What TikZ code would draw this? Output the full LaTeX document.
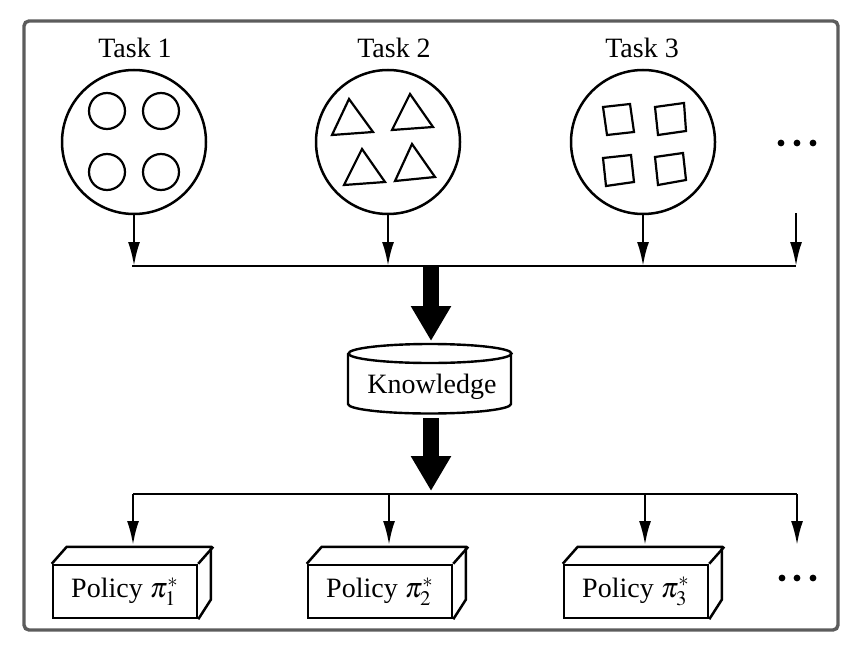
\documentclass[tikz,border=0pt]{standalone}
\usepackage{mathptmx}
\usepackage{fontspec}
\setmainfont{Liberation Serif}
\usetikzlibrary{arrows.meta,calc}
\definecolor{framegray}{RGB}{92,92,92}
\begin{document}
\begin{tikzpicture}[x=0.5pt,y=-0.5pt,line width=1.2pt,
  font=\fontsize{14}{16}\selectfont,
  frame/.style={draw=framegray,line width=1.7pt,rounded corners=2.5pt},
  task/.style={circle,draw,line width=1.25pt,minimum size=72pt,inner sep=0pt},
  shp/.style={line width=1.1pt,line join=miter},
  conn/.style={-{Latex[length=12pt,width=6pt]},line width=1.2pt},
  big/.style={-{Triangle[length=17.5pt,width=19pt]},line width=8pt},
  pol/.style={draw,line width=1.25pt,minimum width=72pt,minimum height=26.5pt,inner sep=0pt},
  depth/.style={line width=1.25pt,line join=miter}]
\useasboundingbox (0,0) rectangle (854,652);
\draw[frame] (24,21) rectangle (838,630);
% tasks
\node[task] (t1) at (134,142) {};
\node[task] (t2) at (388,142) {};
\node[task] (t3) at (643,142) {};
\node[anchor=base] (l1) at (135,58) {Task 1};
\node[anchor=base] (l2) at (394,58) {Task 2};
\node[anchor=base] (l3) at (642,58) {Task 3};
% circles
\foreach \p in {(107,111),(161,111),(107,172),(161,172)}
  \draw[shp] \p circle[radius=18];
% triangles
\draw[shp] (349,99) -- (332,135) -- (373,132) -- cycle;
\draw[shp] (410,94) -- (392,130) -- (433,127) -- cycle;
\draw[shp] (362,149) -- (344,185) -- (385,182) -- cycle;
\draw[shp] (412,144) -- (395,181) -- (435,177) -- cycle;
% squares
\draw[shp] (603,107) -- (630,104) -- (634,132) -- (607,135) -- cycle;
\draw[shp] (655,107) -- (684,103) -- (686,131) -- (658,135) -- cycle;
\draw[shp] (603,158) -- (631,155) -- (634,182) -- (606,186) -- cycle;
\draw[shp] (655,157) -- (683,153) -- (686,180) -- (658,185) -- cycle;
% dots top
\foreach \x in {781,797,813} \fill (\x,143) circle[radius=3.4];
\coordinate (d1) at (796,213);
% top bar
\coordinate (b1) at (132,266);
\coordinate (b4) at (796,266);
\coordinate (bmid) at (431,266);
\draw (b1) -- (b4);
\draw[conn] (t1.south) -- (t1.south |- b1);
\draw[conn] (t2.south) -- (t2.south |- b1);
\draw[conn] (t3.south) -- (t3.south |- b1);
\draw[conn] (d1) -- (d1 |- b1);
% knowledge cylinder
\coordinate (kt) at (431,341);
\coordinate (kb) at (431,418);
\draw (348,353.5) -- (348,404) arc[start angle=180,end angle=0,x radius=81.5,y radius=9.5] -- (511,353.5);
\draw (430,353.5) ellipse[x radius=81.5,y radius=9.5];
\node[anchor=base] (kn) at (432,393) {Knowledge};
\draw[big] (bmid) -- (kt);
% bottom bar
\coordinate (c1) at (133,494);
\coordinate (c4) at (797,494);
\coordinate (cmid) at (431,491);
\draw[big] (kb) -- (cmid);
\draw (c1) -- (c4);
% policies
\node[pol] (p1) at (125,591.5) {Policy $\pi_1^*$};
\node[pol] (p2) at (380,591.5) {Policy $\pi_2^*$};
\node[pol] (p3) at (636,591.5) {Policy $\pi_3^*$};
\foreach \n in {p1,p2,p3}{
  \draw[depth] (\n.north west) -- ++(15,-17) -- ++(144,0) -- ++(0,53) -- (\n.south east);
  \draw[depth] (\n.north east) -- ++(15,-17);
}
\coordinate (e1) at (133,545);
\coordinate (e2) at (389,545);
\coordinate (e3) at (645,545);
\coordinate (e4) at (797,545);
\draw[conn] (c1) -- (e1);
\draw[conn] (e2 |- c1) -- (e2);
\draw[conn] (e3 |- c1) -- (e3);
\draw[conn] (c4) -- (e4);
% dots bottom
\foreach \x in {782,797,813} \fill (\x,578) circle[radius=3.4];
\end{tikzpicture}
\end{document}
